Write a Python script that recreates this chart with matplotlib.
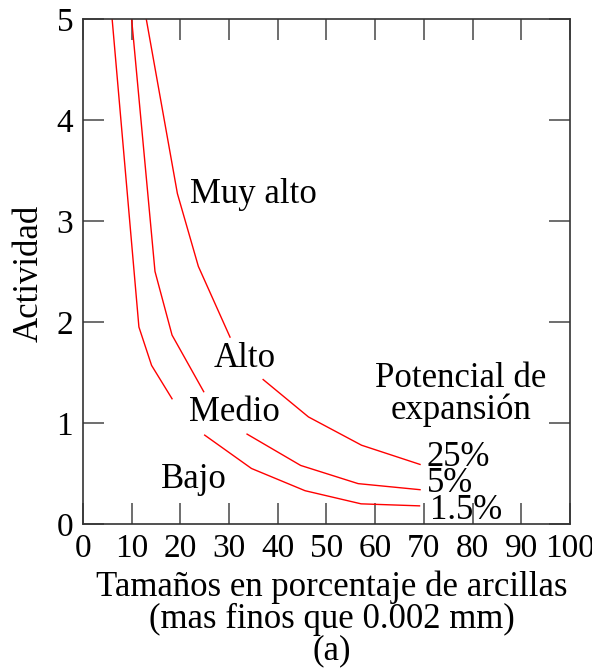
import numpy as np
import matplotlib
matplotlib.use("Agg")
import matplotlib.pyplot as plt

plt.rcParams["font.family"] = ["Liberation Serif", "DejaVu Serif"]

# curves; NaN marks the gap left for the zone labels
x_1p5 = [6.0, 11.5, 14.1, 18.3, np.nan, 25.0, 34.6, 45.6, 57.1, 69.1]
y_1p5 = [5.0, 1.95, 1.57, 1.24, np.nan, 0.88, 0.55, 0.33, 0.20, 0.18]
x_5 = [10.0, 14.8, 18.3, 24.8, np.nan, 33.7, 44.7, 56.5, 69.2]
y_5 = [5.0, 2.50, 1.87, 1.31, np.nan, 0.89, 0.58, 0.40, 0.34]
x_25 = [13.0, 19.4, 23.7, 30.2, np.nan, 37.0, 46.3, 57.2, 69.2]
y_25 = [5.0, 3.27, 2.55, 1.85, np.nan, 1.43, 1.06, 0.78, 0.59]

x_ticks = [0, 10, 20, 30, 40, 50, 60, 70, 80, 90, 100]
y_ticks = [0, 1, 2, 3, 4, 5]

fig = plt.figure(figsize=(5.92, 6.71), dpi=100)
ax = fig.add_axes([0.140, 0.219, 0.823, 0.753])

for xs, ys in [(x_1p5, y_1p5), (x_5, y_5), (x_25, y_25)]:
    ax.plot(xs, ys, color="red", lw=1.0)

ax.set_xlim(0, 100)
ax.set_ylim(0, 5)
ax.set_xticks(x_ticks)
ax.set_yticks(y_ticks)
ax.tick_params(direction="in", length=15, width=1.2, color="#555555",
               labelsize=24, top=True, right=True, pad=7)
ax.tick_params(axis="x", pad=7)
for s in ax.spines.values():
    s.set_color("#333333")
    s.set_linewidth(1.2)

fs = 25
ax.text(35.0, 3.26, "Muy alto", fontsize=fs, ha="center", va="center")
ax.text(33.3, 1.64, "Alto", fontsize=fs, ha="center", va="center")
ax.text(31.2, 1.10, "Medio", fontsize=fs, ha="center", va="center")
ax.text(22.8, 0.44, "Bajo", fontsize=fs, ha="center", va="center")
ax.text(77.6, 1.28, "Potencial de\nexpansión", fontsize=fs, ha="center", va="center",
        linespacing=0.92)
ax.text(70.6, 0.66, "25%", fontsize=fs, ha="left", va="center")
ax.text(70.6, 0.40, "5%", fontsize=fs, ha="left", va="center")
ax.text(71.2, 0.13, "1.5%", fontsize=fs, ha="left", va="center")

fig.text(29 / 592, 1 - 273 / 671, "Actividad", fontsize=fs, rotation=90,
         ha="center", va="center")
fig.text(332 / 592, 1 - 619 / 671,
         "Tamaños en porcentaje de arcillas\n(mas finos que 0.002 mm)\n(a)",
         fontsize=fs, ha="center", va="center", linespacing=0.93)

fig.savefig("out.png", dpi=100)
